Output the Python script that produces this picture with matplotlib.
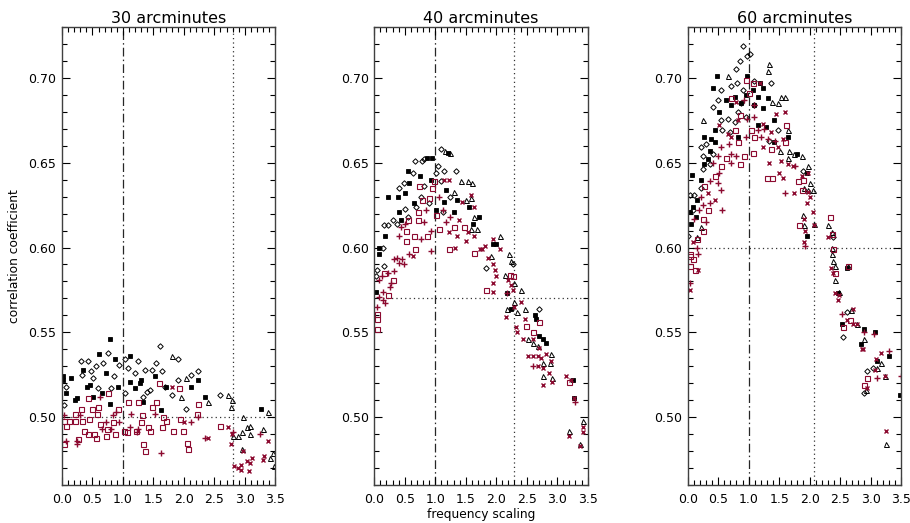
import matplotlib
matplotlib.use("Agg")
import matplotlib.pyplot as plt

# ---------------- data ----------------
titles = ["30 arcminutes", "40 arcminutes", "60 arcminutes"]
vline_dashdot = [1.0, 1.0, 1.0]
vline_dotted = [2.8, 2.3, 2.08]
hline_dotted = [0.50, 0.57, 0.60]
x_ticks = [0.0, 0.5, 1.0, 1.5, 2.0, 2.5, 3.0, 3.5]
y_ticks = [0.50, 0.55, 0.60, 0.65, 0.70]

# panel 1 (30 arcmin)
p30_black_square = [(0.02,0.524),(0.07,0.514),(0.15,0.523),(0.22,0.510),(0.35,0.528),(0.41,0.518),(0.51,0.512),
    (0.61,0.537),(0.65,0.514),(0.73,0.526),(0.78,0.546),(0.78,0.508),(0.87,0.534),(0.92,0.518),(1.12,0.536),
    (1.12,0.521),(1.19,0.517),(1.30,0.522),(1.33,0.509),(1.52,0.524),(1.63,0.504),(1.71,0.518),(2.12,0.518),
    (2.23,0.522),(2.34,0.512),(3.26,0.505),(0.01,0.522),(0.24,0.511),(0.46,0.519),(1.28,0.520)]
p30_black_diamond = [(0.03,0.507),(0.07,0.518),(0.31,0.533),(0.43,0.533),(0.33,0.525),(0.56,0.530),(0.51,0.523),
    (0.59,0.517),(0.68,0.532),(0.75,0.538),(0.81,0.517),(0.93,0.531),(1.04,0.534),(1.03,0.514),(1.08,0.529),
    (1.19,0.526),(1.24,0.533),(1.33,0.512),(1.37,0.528),(1.44,0.516),(1.48,0.528),(1.54,0.532),(1.60,0.542),
    (1.64,0.527),(1.69,0.518),(1.80,0.513),(1.90,0.534),(1.91,0.522),(2.04,0.505),(2.12,0.525),(2.23,0.527),
    (2.59,0.513),(0.47,0.527),(0.85,0.524),(1.40,0.515)]
p30_black_triangle = [(1.81,0.536),(1.96,0.512),(2.03,0.523),(2.40,0.509),(2.73,0.513),(2.79,0.510),(2.78,0.506),
    (2.97,0.500),(2.81,0.489),(2.89,0.489),(2.95,0.491),(3.03,0.494),(3.08,0.495),(3.08,0.490),(2.95,0.481),
    (3.30,0.493),(3.38,0.503),(3.41,0.476),(3.46,0.479),(3.48,0.471)]
p30_red_square = [(0.04,0.498),(0.06,0.495),(0.04,0.484),(0.11,0.498),(0.21,0.502),(0.22,0.498),(0.26,0.487),
    (0.31,0.505),(0.33,0.498),(0.36,0.492),(0.42,0.511),(0.43,0.490),(0.45,0.499),(0.50,0.505),(0.52,0.490),
    (0.55,0.488),(0.57,0.502),(0.59,0.506),(0.62,0.496),(0.72,0.489),(0.74,0.493),(0.76,0.514),(0.83,0.497),
    (0.87,0.490),(0.92,0.505),(1.01,0.492),(1.07,0.491),(1.08,0.509),(1.21,0.492),(1.24,0.509),(1.30,0.497),
    (1.32,0.501),(1.33,0.484),(1.37,0.480),(1.41,0.494),(1.45,0.492),(1.48,0.506),(1.55,0.509),(1.59,0.520),
    (1.64,0.494),(1.65,0.500),(1.70,0.498),(1.82,0.492),(1.92,0.517),(1.93,0.499),(1.99,0.492),(2.05,0.485),
    (2.07,0.481),(2.21,0.502),(2.23,0.508),(2.60,0.495)]
p30_red_plus = [(0.04,0.501),(0.07,0.486),(0.24,0.486),(0.25,0.484),(0.29,0.501),(0.62,0.512),(0.65,0.493),
    (0.73,0.497),(0.81,0.493),(0.84,0.501),(0.89,0.503),(0.94,0.497),(1.12,0.494),(1.14,0.502),(1.23,0.491),
    (1.52,0.502),(1.63,0.479),(2.12,0.497),(2.23,0.500),(2.35,0.488),(2.81,0.491),(3.25,0.490),(1.25,0.493)]
p30_red_x = [(1.81,0.518),(2.01,0.497),(2.40,0.488),(2.73,0.494),(2.78,0.484),(2.79,0.490),(2.83,0.471),
    (2.88,0.470),(2.93,0.472),(2.93,0.469),(2.97,0.480),(3.03,0.474),(3.07,0.468),(3.08,0.473),(3.11,0.476),
    (3.29,0.475),(3.31,0.477),(3.38,0.486)]

# panel 2 (40 arcmin)
p40_black_square = [(0.03,0.574),(0.07,0.596),(0.08,0.600),(0.17,0.607),(0.22,0.630),(0.39,0.630),(0.41,0.621),
    (0.50,0.632),(0.56,0.645),(0.57,0.638),(0.65,0.626),(0.75,0.642),(0.87,0.653),(0.95,0.653),(1.01,0.622),
    (1.15,0.627),(1.21,0.656),(1.31,0.621),(1.36,0.628),(1.55,0.624),(1.62,0.614),(1.72,0.618),(1.95,0.602),
    (2.00,0.602),(2.17,0.573),(2.25,0.564),(2.63,0.560),(2.65,0.558),(2.71,0.548),(2.77,0.546),(2.82,0.544),
    (3.26,0.522),(3.28,0.511),(0.44,0.616),(0.93,0.640),(1.17,0.634)]
p40_black_diamond = [(0.03,0.583),(0.04,0.587),(0.14,0.600),(0.16,0.589),(0.16,0.613),(0.23,0.613),(0.30,0.616),
    (0.37,0.614),(0.41,0.635),(0.48,0.638),(0.51,0.623),(0.55,0.618),(0.63,0.644),(0.67,0.651),(0.68,0.624),
    (0.76,0.630),(0.79,0.651),(0.82,0.652),(0.82,0.636),(0.90,0.626),(1.01,0.644),(1.04,0.648),(1.09,0.639),
    (1.12,0.621),(1.15,0.645),(1.34,0.645),(1.25,0.630),(1.84,0.588),(2.28,0.590),(2.70,0.564),(1.09,0.658)]
p40_black_triangle = [(1.16,0.657),(1.25,0.656),(1.31,0.633),(1.43,0.639),(1.50,0.628),(1.54,0.639),(1.58,0.629),
    (1.58,0.611),(1.61,0.638),(1.64,0.618),(1.69,0.611),(1.92,0.595),(2.06,0.607),(2.14,0.584),(2.21,0.596),
    (2.25,0.592),(2.29,0.579),(2.30,0.568),(2.17,0.564),(2.34,0.562),(2.41,0.575),(2.47,0.564),(2.52,0.546),
    (2.60,0.544),(2.68,0.542),(2.77,0.532),(2.88,0.532),(2.90,0.537),(2.77,0.524),(2.92,0.523),(3.19,0.492),
    (3.43,0.498),(3.38,0.484)]
p40_red_square = [(0.04,0.552),(0.05,0.558),(0.04,0.561),(0.16,0.585),(0.22,0.572),(0.30,0.581),(0.52,0.610),
    (0.52,0.604),(0.55,0.616),(0.65,0.607),(0.67,0.599),(0.71,0.616),(0.72,0.621),(0.74,0.636),(0.87,0.607),
    (0.95,0.635),(0.98,0.639),(1.06,0.611),(1.23,0.599),(1.31,0.612),(1.47,0.612),(1.64,0.597),(1.83,0.575),
    (2.22,0.584),(2.28,0.583),(2.49,0.554),(2.61,0.550),(2.70,0.556),(3.20,0.521),(0.79,0.628),(0.90,0.629),
    (1.01,0.619)]
p40_red_plus = [(0.05,0.565),(0.08,0.571),(0.08,0.581),(0.12,0.583),(0.14,0.574),(0.15,0.569),(0.17,0.567),
    (0.23,0.585),(0.25,0.577),(0.27,0.579),(0.33,0.586),(0.33,0.593),(0.38,0.594),(0.41,0.591),(0.46,0.593),
    (0.49,0.590),(0.41,0.607),(0.44,0.612),(0.50,0.614),(0.57,0.596),(0.76,0.605),(0.82,0.615),(0.85,0.622),
    (0.93,0.598),(0.93,0.610),(1.06,0.630),(1.12,0.622),(1.17,0.615),(1.25,0.618),(2.60,0.530),(3.30,0.509),
    (2.17,0.573)]
p40_red_x = [(0.64,0.595),(1.15,0.640),(1.23,0.640),(1.23,0.609),(1.32,0.600),(1.36,0.607),(1.39,0.616),
    (1.44,0.627),(1.50,0.604),(1.53,0.609),(1.58,0.631),(1.64,0.624),(1.64,0.607),(1.73,0.599),(1.76,0.599),
    (1.81,0.601),(1.87,0.594),(1.95,0.605),(1.95,0.590),(1.98,0.587),(1.94,0.579),(1.95,0.574),(2.00,0.583),
    (2.06,0.599),(2.19,0.581),(2.25,0.578),(2.28,0.575),(2.30,0.565),(2.16,0.559),(2.41,0.568),(2.33,0.553),
    (2.47,0.558),(2.34,0.550),(2.44,0.546),(2.60,0.546),(2.71,0.541),(2.52,0.536),(2.60,0.536),(2.68,0.536),
    (2.74,0.535),(2.82,0.537),(2.90,0.533),(2.68,0.530),(2.77,0.529),(2.86,0.526),(2.77,0.519),(2.92,0.521),
    (3.15,0.524),(3.23,0.522),(3.28,0.511),(3.19,0.489),(3.42,0.491),(3.43,0.494),(3.38,0.483)]

# panel 3 (60 arcmin)
p60_black_square = [(0.07,0.643),(0.03,0.621),(0.08,0.624),(0.05,0.614),(0.16,0.628),(0.27,0.665),(0.27,0.649),
    (0.33,0.652),(0.38,0.664),(0.41,0.694),(0.44,0.669),(0.48,0.701),(0.52,0.680),(0.63,0.687),(0.71,0.684),
    (0.77,0.689),(0.82,0.665),(0.87,0.685),(0.97,0.701),(0.96,0.690),(1.07,0.693),(1.09,0.684),(1.15,0.689),
    (1.18,0.697),(1.23,0.694),(1.28,0.671),(1.31,0.688),(1.42,0.675),(1.42,0.662),(1.64,0.665),(1.79,0.655),
    (1.95,0.644),(1.95,0.607),(2.61,0.588),(2.47,0.573),(2.53,0.555),(2.90,0.552),(3.07,0.550),(2.85,0.543),
    (3.10,0.533),(3.30,0.536),(3.48,0.513),(0.22,0.640),(0.14,0.618),(0.36,0.657),(0.44,0.662),(1.23,0.682),
    (1.15,0.672)]
p60_black_diamond = [(0.90,0.719),(1.03,0.714),(0.98,0.713),(0.85,0.710),(0.79,0.705),(0.81,0.697),(1.09,0.698),
    (1.37,0.697),(0.55,0.693),(0.71,0.695),(0.90,0.693),(0.49,0.687),(0.41,0.683),(0.87,0.685),(1.09,0.684),
    (0.82,0.680),(0.66,0.676),(0.55,0.675),(0.77,0.674),(0.96,0.677),(0.57,0.669),(0.70,0.668),(0.30,0.661),
    (0.22,0.659),(0.25,0.654),(0.41,0.655),(0.25,0.646),(0.36,0.649),(0.22,0.635),(0.03,0.631),(0.11,0.631),
    (0.01,0.607),(0.08,0.622),(1.90,0.645),(2.39,0.606),(2.62,0.562),(2.55,0.547),(3.04,0.529),(2.94,0.527),
    (2.90,0.514),(1.34,0.663),(1.48,0.669)]
p60_black_triangle = [(1.34,0.708),(1.31,0.704),(0.66,0.701),(1.53,0.689),(1.59,0.689),(1.39,0.686),(1.48,0.685),
    (0.25,0.675),(1.52,0.657),(1.64,0.669),(1.67,0.657),(1.64,0.653),(1.74,0.655),(0.22,0.612),(0.16,0.606),
    (1.87,0.654),(1.98,0.648),(2.01,0.638),(2.06,0.634),(1.91,0.635),(1.98,0.634),(1.90,0.619),(1.91,0.613),
    (2.08,0.614),(2.30,0.613),(2.36,0.609),(2.37,0.600),(2.36,0.596),(2.39,0.592),(2.41,0.589),(2.41,0.581),
    (2.48,0.574),(2.68,0.563),(2.77,0.555),(2.90,0.546),(3.10,0.529),(3.17,0.532),(3.24,0.524),(2.92,0.516),
    (3.26,0.484),(2.63,0.589)]
p60_red_square = [(0.96,0.699),(1.07,0.697),(1.01,0.691),(0.71,0.688),(0.85,0.678),(1.61,0.672),(1.04,0.669),
    (0.77,0.669),(1.09,0.665),(1.59,0.662),(0.82,0.662),(1.36,0.658),(1.07,0.656),(0.93,0.654),(0.85,0.649),
    (0.55,0.648),(1.30,0.641),(1.38,0.641),(0.27,0.636),(0.25,0.617),(0.25,0.610),(0.16,0.605),(0.03,0.596),
    (0.04,0.595),(0.09,0.593),(0.04,0.589),(0.12,0.587),(1.81,0.639),(1.90,0.640),(1.88,0.634),(1.83,0.613),
    (2.33,0.618),(2.36,0.608),(2.39,0.599),(2.41,0.585),(2.63,0.589),(2.66,0.557),(2.55,0.553),(2.94,0.523),
    (2.90,0.519),(0.63,0.653),(0.44,0.642),(0.33,0.622)]
p60_red_plus = [(0.93,0.687),(1.09,0.684),(0.98,0.676),(1.09,0.677),(1.15,0.669),(1.26,0.670),(0.96,0.665),
    (1.20,0.665),(0.68,0.661),(0.55,0.659),(0.71,0.655),(0.49,0.654),(0.79,0.654),(0.71,0.650),(0.41,0.650),
    (0.52,0.644),(0.36,0.639),(0.49,0.638),(0.55,0.634),(0.22,0.630),(0.36,0.626),(0.25,0.625),(0.57,0.622),
    (0.19,0.622),(0.30,0.615),(0.11,0.617),(0.16,0.600),(0.17,0.596),(0.04,0.579),(1.59,0.632),(1.76,0.648),
    (1.93,0.601),(2.53,0.561),(2.90,0.550),(3.06,0.549),(3.30,0.539),(3.10,0.523),(3.50,0.524),(1.43,0.663),
    (1.31,0.664)]
p60_red_x = [(1.18,0.697),(0.79,0.686),(1.59,0.680),(1.45,0.679),(1.23,0.673),(0.82,0.675),(0.66,0.667),
    (0.52,0.672),(0.71,0.665),(1.37,0.668),(1.56,0.664),(1.23,0.659),(1.48,0.659),(1.34,0.650),(1.53,0.651),
    (1.64,0.649),(1.72,0.648),(1.50,0.644),(1.56,0.641),(1.74,0.632),(0.33,0.632),(0.44,0.628),(0.08,0.603),
    (0.17,0.587),(0.04,0.575),(1.87,0.642),(1.98,0.644),(1.97,0.633),(2.01,0.630),(1.95,0.626),(2.06,0.621),
    (2.08,0.613),(1.91,0.617),(1.92,0.610),(1.91,0.603),(2.30,0.606),(2.35,0.588),(2.39,0.585),(2.41,0.573),
    (2.48,0.572),(2.47,0.569),(2.61,0.557),(2.72,0.555),(2.77,0.555),(2.72,0.564),(2.86,0.540),(2.88,0.540),
    (3.17,0.538),(3.09,0.534),(3.07,0.528),(2.94,0.517),(3.24,0.524),(3.26,0.492)]

panels = [
    [p30_black_square, p30_black_diamond, p30_black_triangle, p30_red_square, p30_red_plus, p30_red_x],
    [p40_black_square, p40_black_diamond, p40_black_triangle, p40_red_square, p40_red_plus, p40_red_x],
    [p60_black_square, p60_black_diamond, p60_black_triangle, p60_red_square, p60_red_plus, p60_red_x],
]

# ---------------- style ----------------
RED = "#8c0a30"
styles = [
    dict(marker="s", ms=3.3, mfc="black", mec="black", mew=0.6),
    dict(marker="D", ms=2.8, mfc="none", mec="black", mew=0.7),
    dict(marker="^", ms=3.6, mfc="none", mec="black", mew=0.7),
    dict(marker="s", ms=3.6, mfc="none", mec=RED, mew=0.8),
    dict(marker="+", ms=3.8, mfc="none", mec=RED, mew=1.0),
    dict(marker="x", ms=3.2, mfc="none", mec=RED, mew=1.0),
]

plt.rcParams["font.family"] = ["DejaVu Sans"]
fig = plt.figure(figsize=(9.10, 5.23), dpi=100)
lefts = [62 / 910, 374.3 / 910, 687.7 / 910]
width = 213.3 / 910
bottom = 1 - 485 / 523
height = (485 - 27) / 523

for i in range(3):
    ax = fig.add_axes([lefts[i], bottom, width, height])
    for series, st in zip(panels[i], styles):
        xs = [p[0] for p in series]
        ys = [p[1] for p in series]
        ax.plot(xs, ys, linestyle="none", **st)
    ax.axvline(vline_dashdot[i], color="0.15", lw=0.9, ls=(0, (7, 2.5, 1.2, 2.5)), zorder=0)
    ax.axvline(vline_dotted[i], color="0.2", lw=0.9, ls=(0, (1, 2.5)), zorder=0)
    ax.axhline(hline_dotted[i], color="0.2", lw=0.9, ls=(0, (1, 2.5)), zorder=0)
    ax.set_xlim(0, 3.5)
    ax.set_ylim(0.46, 0.73)
    ax.set_xticks(x_ticks)
    ax.set_xticklabels([f"{v:.1f}" for v in x_ticks])
    ax.set_yticks(y_ticks)
    ax.set_yticklabels([f"{v:.2f}" for v in y_ticks])
    ax.set_xticks([k / 10 for k in range(0, 36)], minor=True)
    ax.set_yticks([0.46 + k / 100 for k in range(0, 28)], minor=True)
    ax.tick_params(which="both", direction="in", top=True, right=True, width=0.8, labelsize=9)
    ax.tick_params(which="major", length=6)
    ax.tick_params(which="minor", length=3.5)
    ax.tick_params(axis="x", pad=6)
    ax.tick_params(axis="y", pad=4)
    for sp in ax.spines.values():
        sp.set_linewidth(1.0)
        sp.set_color("0.25")
    ax.set_title(titles[i], fontsize=11.5, pad=3)
    if i == 0:
        ax.set_ylabel("correlation coefficient", fontsize=8.8, labelpad=5)
    if i == 1:
        ax.set_xlabel("frequency scaling", fontsize=8.8, labelpad=1)

fig.savefig("out.png", dpi=100)
